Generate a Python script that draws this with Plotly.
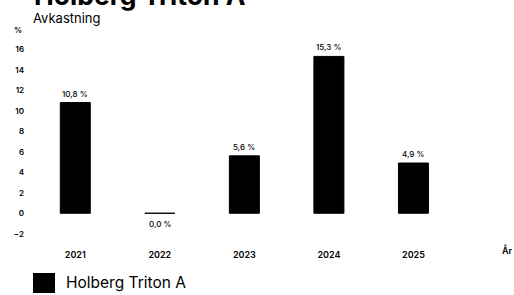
import plotly.graph_objects as go

years = ["2021", "2022", "2023", "2024", "2025"]
returns = [10.8, 0.0, 5.6, 15.3, 4.9]
y_ticks = [-2, 0, 2, 4, 6, 8, 10, 12, 14, 16]
series_name = "Holberg Triton A"
subtitle = "Avkastning"
y_unit = "%"
x_unit = "År"

FONT = "Inter"

fig = go.Figure()
fig.add_trace(go.Bar(
    x=years, y=returns, name=series_name, width=0.355,
    marker=dict(color="#000000", line=dict(color="#000000", width=1)),
    showlegend=False,
))

labels = [f"{v:.1f}".replace(".", ",") + " %" for v in returns]
annotations = []
for i, (v, t) in enumerate(zip(returns, labels)):
    annotations.append(dict(
        x=i, y=v, xref="x", yref="y", text=t, showarrow=False,
        yanchor="bottom" if v > 0 else "top", yshift=2 if v > 0 else -4,
        font=dict(family=FONT, size=8, color="#000", weight=500),
    ))

annotations += [
    dict(x=0, y=1, xref="paper", yref="paper", xanchor="left", yanchor="bottom",
         text=series_name, showarrow=False, yshift=26, xshift=-1,
         font=dict(family=FONT, size=26.5, color="#000", weight=700)),
    dict(x=0, y=1, xref="paper", yref="paper", xanchor="left", yanchor="bottom",
         text=subtitle, showarrow=False, yshift=11, xshift=-2,
         font=dict(family=FONT, size=13, color="#000")),
    dict(x=-0.032, y=1, xref="paper", yref="paper", xanchor="center", yanchor="middle",
         text=y_unit, showarrow=False, yshift=9,
         font=dict(family=FONT, size=8, color="#000", weight=600)),
    dict(x=1.0215, y=-0.03, xref="paper", yref="paper", xanchor="center", yanchor="middle",
         text=x_unit, showarrow=False,
         font=dict(family=FONT, size=9, color="#000", weight=600)),
    dict(x=0.066, y=-0.187, xref="paper", yref="paper", xanchor="left", yanchor="middle",
         text=series_name, showarrow=False,
         font=dict(family=FONT, size=15.5, color="#000")),
]

shapes = [dict(type="rect", xref="paper", yref="paper",
               x0=0.0, x1=22/465, y0=1 - (273-39)/205, y1=1 - (293-39)/205,
               fillcolor="#000", line=dict(width=0))]

fig.update_layout(
    width=514, height=295,
    margin=dict(l=33, r=16, t=39, b=51),
    paper_bgcolor="white", plot_bgcolor="white",
    font=dict(family=FONT, color="#000"),
    annotations=annotations, shapes=shapes,
    xaxis=dict(type="category", range=[-0.5, 5.0], showgrid=False, zeroline=False,
               showline=False, ticks="", ticklabelstandoff=4,
               tickfont=dict(family=FONT, size=9, weight=600)),
    yaxis=dict(range=[-3, 17], tickvals=y_ticks, showgrid=False, zeroline=False,
               showline=False, ticks="", ticklabelstandoff=8,
               tickfont=dict(family=FONT, size=8, weight=600)),
    bargap=0.6,
)

fig.write_html("out.html", config={"displayModeBar": False},
               post_script="document.body.style.margin='0';")
